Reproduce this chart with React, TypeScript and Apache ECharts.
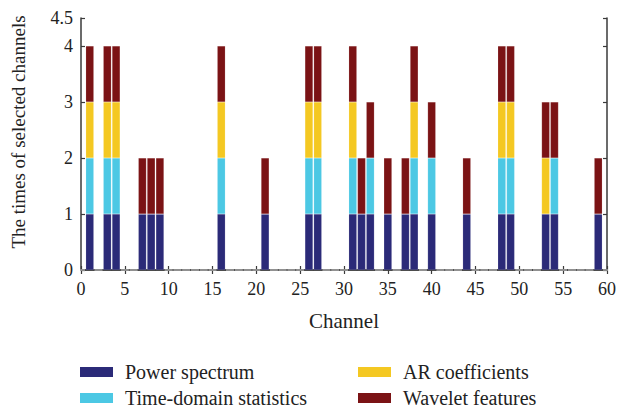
import React, { useEffect, useRef } from "react";
import * as echarts from "echarts";

const xTicks = Array.from({ length: 61 }, (_, i) => String(i));
const channels = [1, 3, 4, 7, 8, 9, 16, 21, 26, 27, 31, 32, 33, 35, 37, 38, 40, 44, 48, 49, 53, 54, 59];
const powerSpectrum = [1, 1, 1, 1, 1, 1, 1, 1, 1, 1, 1, 1, 1, 1, 1, 1, 1, 1, 1, 1, 1, 1, 1];
const timeDomain = [1, 1, 1, 0, 0, 0, 1, 0, 1, 1, 1, 0, 1, 0, 0, 1, 1, 0, 1, 1, 0, 1, 0];
const arCoefficients = [1, 1, 1, 0, 0, 0, 1, 0, 1, 1, 1, 0, 0, 0, 0, 1, 0, 0, 1, 1, 1, 0, 0];
const waveletFeatures = [1, 1, 1, 1, 1, 1, 1, 1, 1, 1, 1, 1, 1, 1, 1, 1, 1, 1, 1, 1, 1, 1, 1];

const seriesNames = ["Power spectrum", "Time-domain statistics", "AR coefficients", "Wavelet features"];
const seriesValues = [powerSpectrum, timeDomain, arCoefficients, waveletFeatures];
const colors = ["#2b2a78", "#4cc8e4", "#f4c822", "#7b1315"];

const FONT = "Liberation Serif";

function fullSeries(vals: number[]) {
  return xTicks.map((_, i) => {
    const j = channels.indexOf(i);
    return j >= 0 ? vals[j] : 0;
  });
}

export default function App() {
  const ref = useRef<HTMLDivElement>(null);
  useEffect(() => {
    if (!ref.current) return;
    const chart = echarts.init(ref.current, undefined, { renderer: "svg" });
    const axisLineStyle = { color: "#3a3a3a", width: 1.5 };
    const tickStyle = { show: true, inside: true, length: 4, interval: 4, lineStyle: { color: "#3a3a3a", width: 1.2 } };
    const yTickStyle = { show: true, inside: true, length: 4, lineStyle: { color: "#3a3a3a", width: 1.2 } };
    const legendText = { fontFamily: FONT, fontSize: 20, color: "#222", lineHeight: 20, padding: [0, 0, 0, 7] };
    const legendBase = {
      orient: "vertical",
      itemWidth: 33,
      itemHeight: 10,
      itemGap: 6,
      itemStyle: { borderWidth: 0 },
      icon: "rect",
      textStyle: legendText,
      padding: 0,
    };
    chart.setOption({
      animation: false,
      backgroundColor: "#ffffff",
      grid: { left: 81, right: 10, top: 18, bottom: 140 },
      legend: [
        { ...legendBase, left: 80, top: 362, data: [seriesNames[0], seriesNames[1]] },
        { ...legendBase, left: 358, top: 362, data: [seriesNames[2], seriesNames[3]] },
      ],
      xAxis: [
        {
          type: "category",
          data: xTicks,
          boundaryGap: false,
          name: "Channel",
          nameLocation: "middle",
          nameGap: 40,
          nameTextStyle: { fontFamily: FONT, fontSize: 21, color: "#222" },
          axisLine: { show: true, lineStyle: axisLineStyle },
          axisTick: tickStyle,
          axisLabel: { interval: 4, fontFamily: FONT, fontSize: 18, color: "#222", margin: 10 },
          splitLine: { show: false },
        },
        {
          type: "category",
          data: xTicks,
          boundaryGap: false,
          position: "top",
          axisLine: { show: true, lineStyle: axisLineStyle },
          axisTick: tickStyle,
          axisLabel: { show: false },
          splitLine: { show: false },
        },
      ],
      yAxis: [
        {
          type: "value",
          min: 0,
          max: 4.5,
          interval: 1,
          axisLine: { show: true, lineStyle: axisLineStyle },
          axisTick: yTickStyle,
          axisLabel: { fontFamily: FONT, fontSize: 18, color: "#222", margin: 8 },
          splitLine: { show: false },
        },
        {
          type: "value",
          position: "right",
          min: 0,
          max: 4.5,
          interval: 1,
          axisLine: { show: true, lineStyle: axisLineStyle },
          axisTick: yTickStyle,
          axisLabel: { show: false },
          splitLine: { show: false },
        },
      ],
      graphic: [
        {
          type: "text",
          x: 18,
          y: 132,
          rotation: Math.PI / 2,
          style: {
            text: "The times of selected channels",
            fontFamily: FONT,
            fontSize: 19,
            fill: "#222",
            textAlign: "center",
            textVerticalAlign: "middle",
          },
        },
      ],
      series: seriesNames.map((name, i) => ({
        name,
        type: "bar",
        stack: "total",
        xAxisIndex: 0,
        yAxisIndex: 0,
        barWidth: 8,
        itemStyle: { color: colors[i], borderColor: "rgba(255,255,255,0.35)", borderWidth: 0.4 },
        data: fullSeries(seriesValues[i]),
      })),
    });
    return () => chart.dispose();
  }, []);
  return <div ref={ref} style={{ position: "fixed", left: 0, top: 0, width: 619, height: 410 }} />;
}
